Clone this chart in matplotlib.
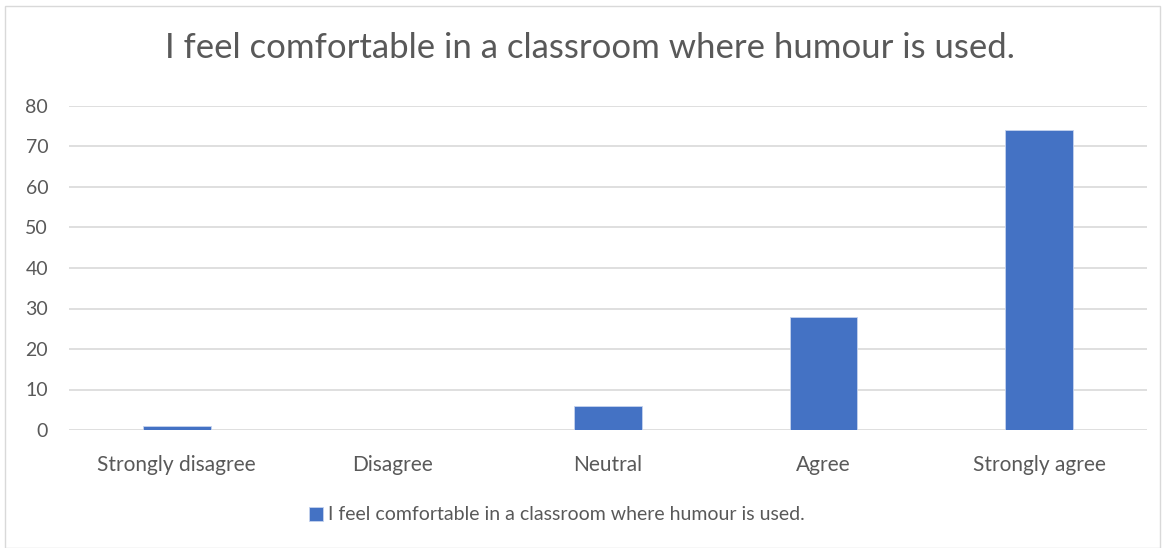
import matplotlib
matplotlib.use("Agg")
import matplotlib.pyplot as plt
from matplotlib.patches import Rectangle

categories = ["Strongly disagree", "Disagree", "Neutral", "Agree", "Strongly agree"]
values = [1, 0, 6, 28, 74]
series_name = "I feel comfortable in a classroom where humour is used."
title = "I feel comfortable in a classroom where humour is used."
yticks = [0, 10, 20, 30, 40, 50, 60, 70, 80]

plt.rcParams['font.family'] = ['Lato', 'DejaVu Sans']
W, H = 1167, 548
fig = plt.figure(figsize=(W/100, H/100), dpi=100)
fig.patches.append(Rectangle((5/W, 0), (1160-5)/W, 1 - 6/H, transform=fig.transFigure,
                             fill=False, edgecolor='#d9d9d9', linewidth=1))

left, right, top, bottom = 69, 1147, 106, 430
ax = fig.add_axes([left/W, 1-bottom/H, (right-left)/W, (bottom-top)/H])
x = list(range(len(categories)))
ax.bar(x, values, width=0.313, color='#4472c4', edgecolor='#c5d3ee', linewidth=0.6,
       label=series_name, zorder=3)
ax.set_xlim(-0.5, len(categories)-0.5)
ax.set_ylim(0, 80)
ax.set_yticks(yticks)
ax.yaxis.grid(True, color='#d9d9d9', linewidth=1.2, zorder=0)
for s in ax.spines.values():
    s.set_visible(False)
ax.tick_params(axis='y', length=0, labelsize=14, colors='#595959', pad=15)
ax.tick_params(axis='x', length=0, labelsize=15, colors='#595959', pad=18)
ax.set_xticks(x)
ax.set_xticklabels(categories)

fig.text(590/W, 1-48/H, title, ha='center', va='center', fontsize=25, color='#595959')
leg = fig.legend(loc='center', bbox_to_anchor=(557/W, 1-515/H), frameon=False,
                 fontsize=14, handlelength=0.7, handleheight=0.7, handletextpad=0.3)
for t in leg.get_texts():
    t.set_color('#595959')

fig.savefig("out.png", dpi=100)
